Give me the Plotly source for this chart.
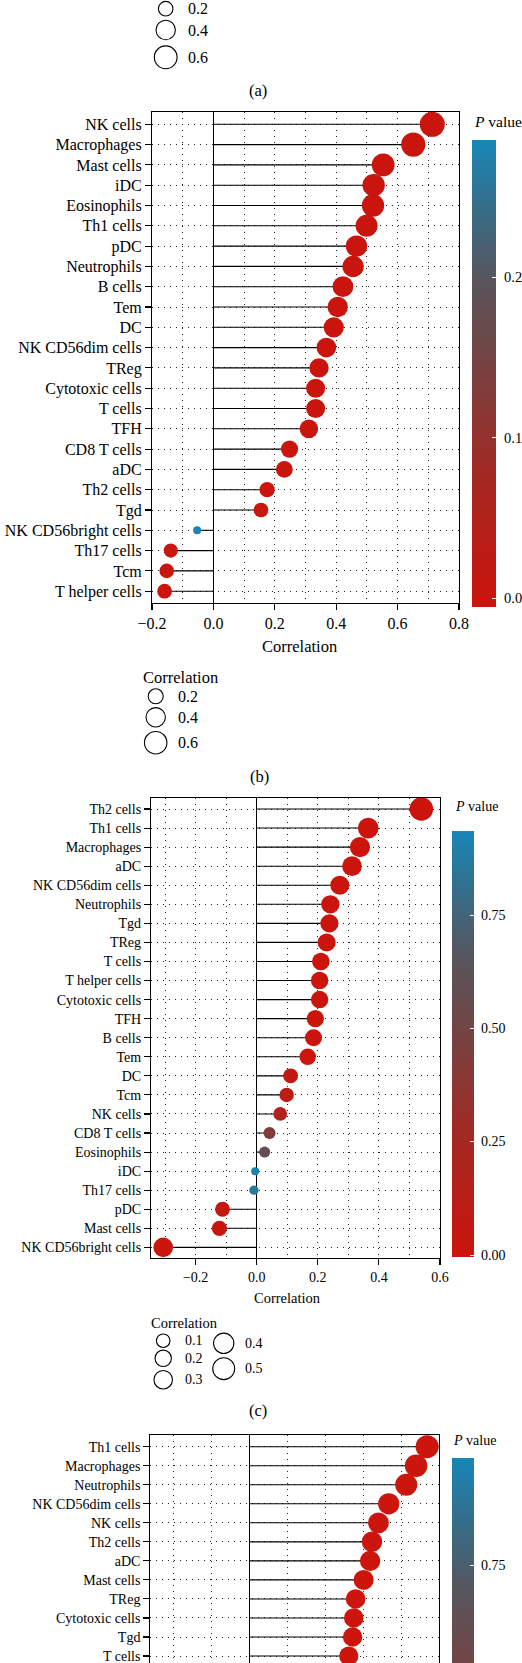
import numpy as np
import plotly.graph_objects as go

W, H = 522, 1663
SERIF = "Liberation Serif"

# ---------------- data ----------------
# panel (b)
b_cells = ["NK cells", "Macrophages", "Mast cells", "iDC", "Eosinophils", "Th1 cells", "pDC",
           "Neutrophils", "B cells", "Tem", "DC", "NK CD56dim cells", "TReg", "Cytotoxic cells",
           "T cells", "TFH", "CD8 T cells", "aDC", "Th2 cells", "Tgd", "NK CD56bright cells",
           "Th17 cells", "Tcm", "T helper cells"]
b_corr = [0.713, 0.651, 0.553, 0.522, 0.520, 0.499, 0.466, 0.455, 0.422, 0.405, 0.392, 0.368,
          0.344, 0.333, 0.333, 0.311, 0.248, 0.231, 0.175, 0.155, -0.053, -0.139, -0.152, -0.159]
b_pval = [0.0, 0.0, 0.0, 0.0, 0.0, 0.0, 0.0, 0.0, 0.0, 0.0, 0.0, 0.0,
          0.0, 0.0, 0.0, 0.0, 0.0, 0.0, 0.0003, 0.001, 0.28, 0.005, 0.002, 0.001]

# panel (c)
c_cells = ["Th2 cells", "Th1 cells", "Macrophages", "aDC", "NK CD56dim cells", "Neutrophils", "Tgd",
           "TReg", "T cells", "T helper cells", "Cytotoxic cells", "TFH", "B cells", "Tem", "DC",
           "Tcm", "NK cells", "CD8 T cells", "Eosinophils", "iDC", "Th17 cells", "pDC",
           "Mast cells", "NK CD56bright cells"]
c_corr = [0.539, 0.365, 0.338, 0.312, 0.272, 0.241, 0.238, 0.229, 0.210, 0.206, 0.206, 0.192,
          0.186, 0.167, 0.111, 0.098, 0.077, 0.042, 0.026, -0.005, -0.009, -0.112, -0.122, -0.306]
c_pval = [0.0, 0.0, 0.0, 0.0, 0.0, 0.0, 0.0, 0.0, 0.0002, 0.0003, 0.0003, 0.0007,
          0.001, 0.003, 0.05, 0.085, 0.17, 0.42, 0.60, 0.93, 0.86, 0.05, 0.03, 0.0]

# panel (d) (only the rows visible in the picture)
d_cells = ["Th1 cells", "Macrophages", "Neutrophils", "NK CD56dim cells", "NK cells", "Th2 cells",
           "aDC", "Mast cells", "TReg", "Cytotoxic cells", "Tgd", "T cells"]
d_corr = [0.468, 0.439, 0.413, 0.367, 0.340, 0.323, 0.318, 0.301, 0.280, 0.275, 0.272, 0.262]
d_pval = [0.0, 0.0, 0.0, 0.0, 0.0, 0.0, 0.0, 0.0, 0.0, 0.0, 0.0, 0.0]

# colour-bar ticks
b_cb_ticks = [0.0, 0.1, 0.2]
b_cb_text = ["0.0", "0.1", "0.2"]
c_cb_ticks = [0.0, 0.25, 0.5, 0.75]
c_cb_text = ["0.00", "0.25", "0.50", "0.75"]
d_cb_ticks = [0.0, 0.25, 0.5, 0.75]
d_cb_text = ["0.00", "0.25", "0.50", "0.75"]

# size-legend breaks
a_size_breaks = [0.2, 0.4, 0.6]
b_size_breaks = [0.2, 0.4, 0.6]
c_size_breaks = [0.1, 0.2, 0.3, 0.4, 0.5]

# ---------------- styling helpers ----------------
CS = [[0.0, "rgb(204,20,12)"], [0.3, "rgb(160,42,36)"], [0.55, "rgb(112,70,70)"],
      [0.7, "rgb(88,85,92)"], [0.85, "rgb(55,108,135)"], [1.0, "rgb(24,134,184)"]]
GRID = dict(gridcolor="#222222", gridwidth=1, griddash="1px,5px")


def size_scale(v, vmin, vmax, k):
    v = np.abs(np.asarray(v, float))
    f = np.clip((v - vmin) / (vmax - vmin), 0, 1)
    return 8 + k * np.sqrt(f)


def px(x):
    return x / W


def py(y):
    return 1 - y / H


annotations = []
shapes = []


def text(x, y, s, fs, xanchor="left", yanchor="middle"):
    annotations.append(dict(x=px(x), y=py(y), xref="paper", yref="paper", text=s, showarrow=False,
                            xanchor=xanchor, yanchor=yanchor, borderpad=0,
                            font=dict(family=SERIF, size=fs, color="black")))


def circle(cx, cy, d):
    r = (d - 1) / 2
    shapes.append(dict(type="circle", xref="paper", yref="paper", x0=px(cx - r), x1=px(cx + r),
                       y0=py(cy + r), y1=py(cy - r), line=dict(color="black", width=1.1),
                       fillcolor="rgba(0,0,0,0)"))


panels = [
    dict(cells=b_cells, corr=b_corr, pval=b_pval, x0=152, x1=459, y0=112, y1=603,
         xr=[-0.2, 0.8], row0=124.3, pitch=20.3, fs=16, sz=(0.053, 0.713, 17.0), xlab=True,
         cb=dict(x=472, top=140, len=467, th=24, cmin=-0.0056, cmax=0.2854,
                 ticks=b_cb_ticks, text=b_cb_text, fs=14.5, lx=502.5)),
    dict(cells=c_cells, corr=c_corr, pval=c_pval, x0=151, x1=440, y0=798, y1=1258.3,
         xr=[-0.346, 0.6], row0=809, pitch=19.06, fs=14, sz=(0.005, 0.539, 15.5), xlab=True,
         cb=dict(x=452, top=831, len=425.7, th=22, cmin=-0.0037, cmax=0.936,
                 ticks=c_cb_ticks, text=c_cb_text, fs=14, lx=480)),
    dict(cells=d_cells, corr=d_corr, pval=d_pval, x0=150.3, x1=439.3, y0=1435, y1=1663,
         xr=[-0.26, 0.5], row0=1446.7, pitch=19.03, fs=14, sz=(0.0, 0.468, 15.0), xlab=False,
         cb=dict(x=451.7, top=1458.3, len=450, th=21.6, cmin=-0.008, cmax=0.986,
                 ticks=d_cb_ticks, text=d_cb_text, fs=14, lx=480)),
]

fig = go.Figure()
layout_axes = {}
for i, P in enumerate(panels):
    sfx = "" if i == 0 else str(i + 1)
    xa, ya = "x" + sfx, "y" + sfx
    n = len(P["cells"])
    rows = list(range(n))
    # segments from 0 to value
    sx, sy = [], []
    for r, v in zip(rows, P["corr"]):
        sx += [0, v, None]
        sy += [r, r, None]
    fig.add_trace(go.Scatter(x=sx, y=sy, mode="lines", line=dict(color="black", width=1.1),
                             xaxis=xa, yaxis=ya, hoverinfo="skip", showlegend=False))
    cb = P["cb"]
    sizes = size_scale(P["corr"], *P["sz"])
    fig.add_trace(go.Scatter(
        x=P["corr"], y=rows, mode="markers", xaxis=xa, yaxis=ya, showlegend=False,
        cliponaxis=True,
        marker=dict(size=sizes, color=P["pval"], colorscale=CS, cmin=cb["cmin"], cmax=cb["cmax"],
                    opacity=1, line=dict(width=0), showscale=True,
                    colorbar=dict(x=px(cb["x"]), xanchor="left", y=py(cb["top"]), yanchor="top",
                                  len=cb["len"], lenmode="pixels", thickness=cb["th"],
                                  thicknessmode="pixels", outlinewidth=0, xpad=0, ypad=0,
                                  ticks="inside", ticklen=4, tickcolor="white", tickwidth=1,
                                  tickvals=cb["ticks"], showticklabels=False))))
    # left-side white ticks and tick labels of colour bar (only those inside the picture)
    for t, lab in zip(cb["ticks"], cb["text"]):
        yy = cb["top"] + (cb["cmax"] - t) / (cb["cmax"] - cb["cmin"]) * cb["len"]
        if yy > H - 8:
            continue
        shapes.append(dict(type="line", xref="paper", yref="paper", x0=px(cb["x"]),
                           x1=px(cb["x"] + 4), y0=py(yy), y1=py(yy),
                           line=dict(color="white", width=1)))
        text(cb["lx"], yy, lab, cb["fs"])
    yr = [(P["y1"] - P["row0"]) / P["pitch"], -(P["row0"] - P["y0"]) / P["pitch"]]
    xaxis = dict(domain=[px(P["x0"]), px(P["x1"])], range=P["xr"], anchor=ya,
                 showgrid=True, **GRID, dtick=0.2, tick0=0,
                 minor=dict(dtick=0.1, tick0=0, showgrid=True, ticks="", **GRID),
                 zeroline=True, zerolinecolor="black", zerolinewidth=1.1,
                 linecolor="black", linewidth=1.1, tickformat=".1f",
                 tickfont=dict(family=SERIF, size=P["fs"], color="black"))
    if P["xlab"]:
        xaxis.update(showline=True, mirror=True, ticks="outside", ticklen=6, tickcolor="black",
                     tickwidth=1.1, showticklabels=True)
    else:
        xaxis.update(showline=True, mirror=False, side="top", ticks="", showticklabels=False)
    yaxis = dict(domain=[py(P["y1"]), py(P["y0"])], range=yr, anchor=xa,
                 tickmode="array", tickvals=rows, ticktext=P["cells"],
                 ticklabeloverflow="allow",
                 showgrid=True, **GRID, zeroline=False,
                 showline=True, mirror=True, linecolor="black", linewidth=1.1,
                 ticks="outside", ticklen=6, tickcolor="black", tickwidth=1.1,
                 tickfont=dict(family=SERIF, size=P["fs"], color="black"))
    layout_axes["xaxis" + sfx] = xaxis
    layout_axes["yaxis" + sfx] = yaxis

# ---------------- texts ----------------
# panel (a) remnants
for v, cy in zip(a_size_breaks, [8.7, 30, 57.3]):
    circle(165.7, cy, float(size_scale([v], 0.08, 0.65, 16.5)[0]))
    text(186.7, cy, f"{v:.1f}", 16)
text(257.5, 91, "(a)", 16.5, xanchor="center")

# panel (b)
text(473.3, 121, "<i>P</i> value", 15.5)
text(299.3, 646, "Correlation", 16.5, xanchor="center")
text(142.3, 677.3, "Correlation", 16.5)
for v, cy in zip(b_size_breaks, [696.3, 717.3, 742.7]):
    circle(155.7, cy, float(size_scale([v], 0.053, 0.713, 17.0)[0]))
    text(176.7, cy, f"{v:.1f}", 16)
text(259, 776, "(b)", 16.5, xanchor="center")

# panel (c)
text(453.7, 807, "<i>P</i> value", 14)
text(287, 1298.3, "Correlation", 14.5, xanchor="center")
text(150, 1322.7, "Correlation", 14.5)
c_pos = [(163.2, 1340.7, 184.3), (163.2, 1358.3, 184.3), (163.2, 1379.7, 184.3),
         (223.7, 1343.3, 244.3), (223.7, 1368.7, 244.3)]
for v, (cx, cy, lx) in zip(c_size_breaks, c_pos):
    circle(cx, cy, float(size_scale([v], 0.005, 0.539, 15.5)[0]))
    text(lx, cy, f"{v:.1f}", 14)
text(257.5, 1410, "(c)", 16.5, xanchor="center")

# panel (d)
text(452, 1440, "<i>P</i> value", 14)

fig.update_layout(width=W, height=H, margin=dict(l=0, r=0, t=0, b=0, autoexpand=False),
                  paper_bgcolor="white", plot_bgcolor="white", showlegend=False,
                  annotations=annotations, shapes=shapes, **layout_axes)
fig.write_html("out.html", config={"displayModeBar": False, "staticPlot": True},
               post_script="document.body.style.margin='0';document.body.style.padding='0';")
